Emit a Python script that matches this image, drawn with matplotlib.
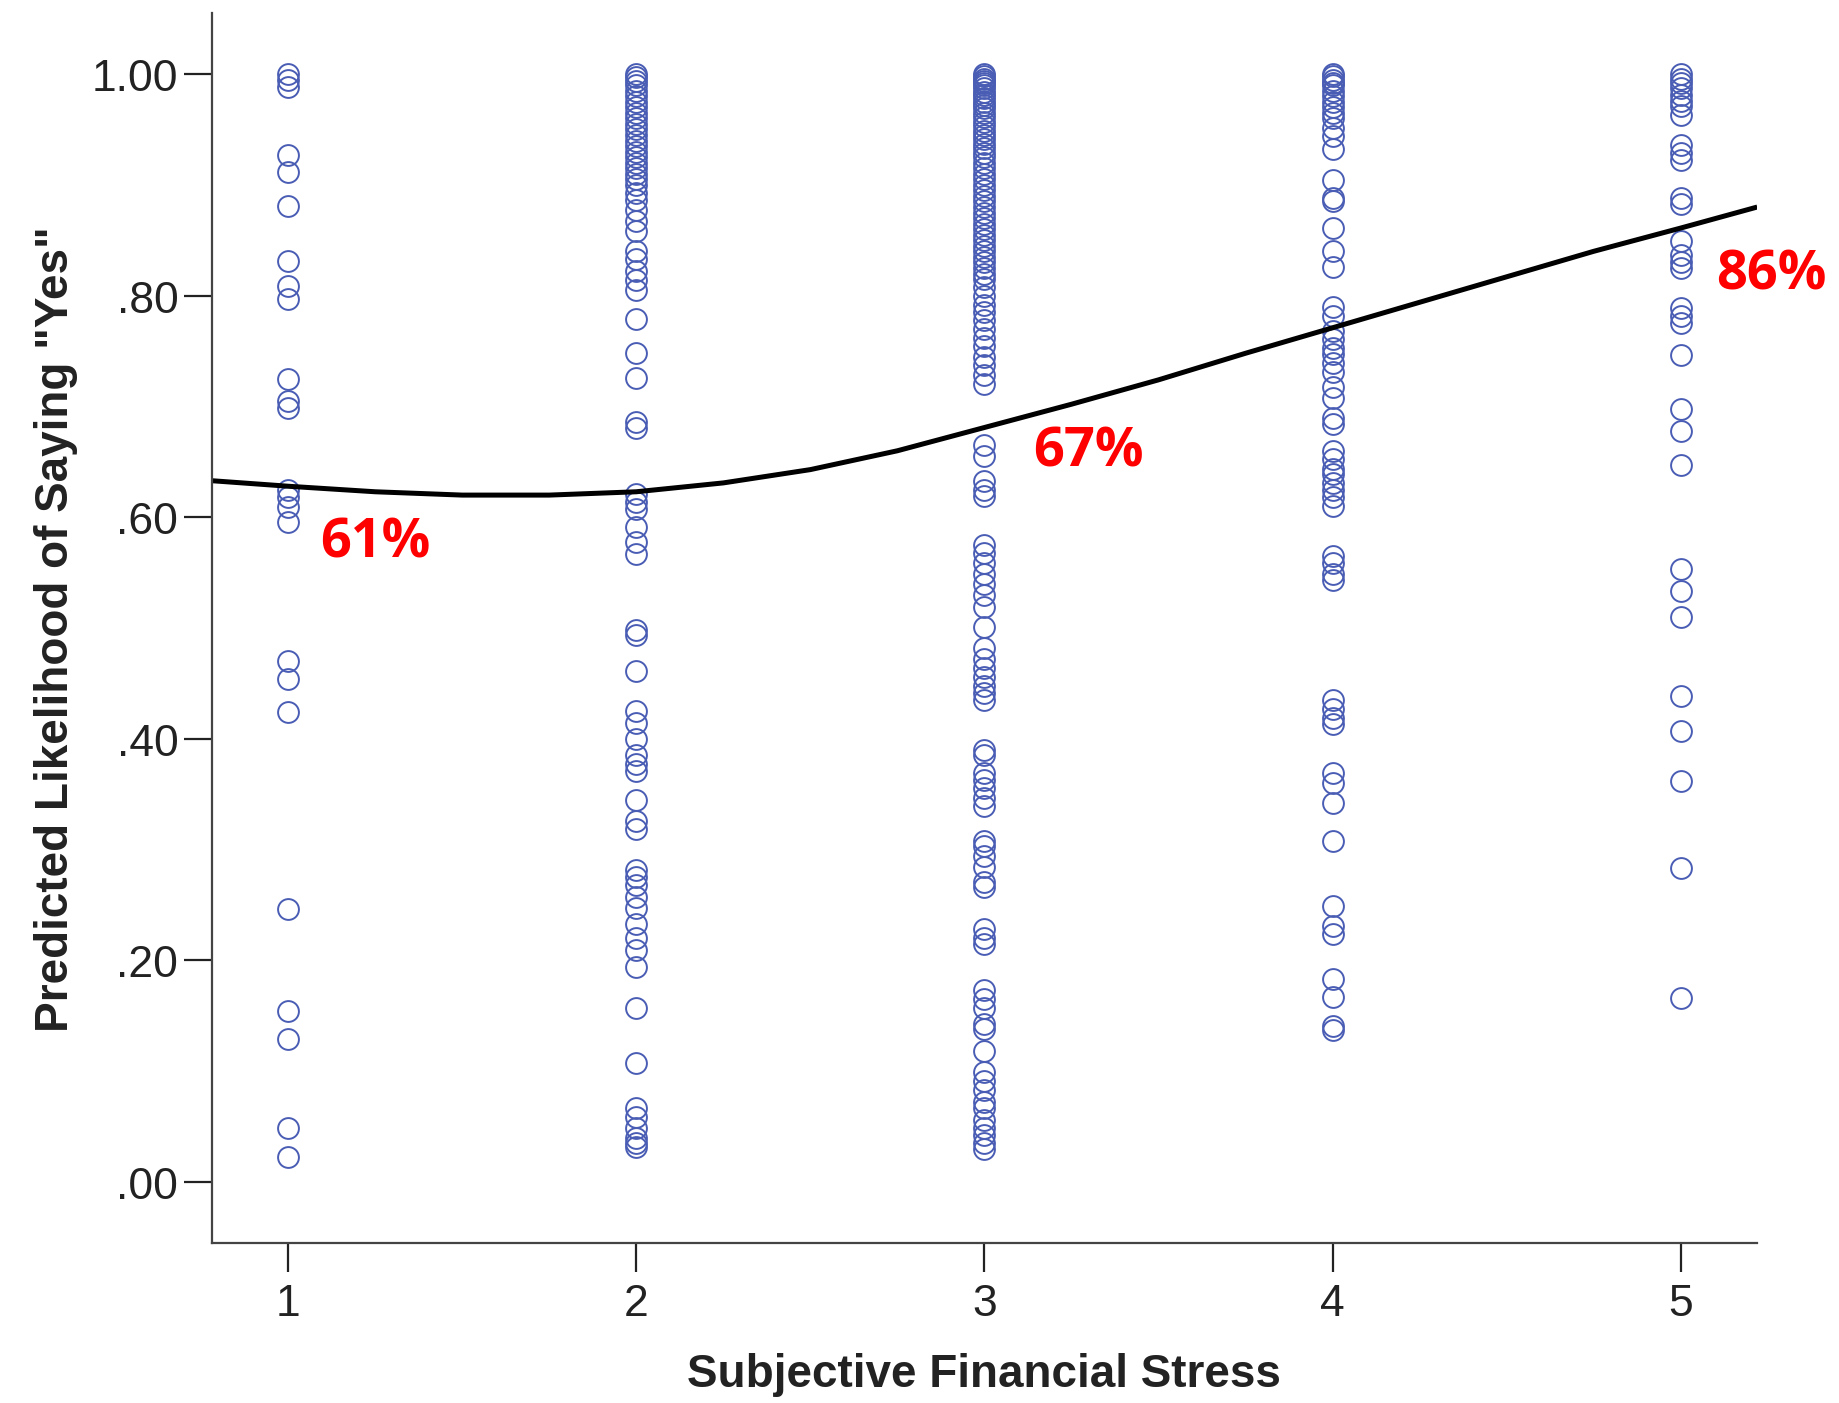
import matplotlib
matplotlib.use("Agg")
import matplotlib.pyplot as plt

# --- Data ---
stress_levels = [1, 2, 3, 4, 5]

likelihood_1 = [1.00, .995, .988, .927, .912, .881, .831, .809, .797, .725, .705, .699,
                .625, .618, .609, .596, .470, .454, .424, .246, .154, .129, .049, .023]

likelihood_2 = [1.00, .997, .994, .990, .985, .980, .975, .970, .965, .960, .955, .950,
                .945, .940, .935, .930, .925, .920, .915, .910, .905, .900,
                .893, .886, .877, .867, .858, .840, .833, .822, .814, .805, .779, .748,
                .726, .686, .681, .621, .614, .607, .591, .578, .567, .498, .494, .461,
                .425, .414, .400, .385, .377, .371, .345, .326, .319, .282, .275, .268,
                .257, .247, .233, .220, .209, .194, .157, .107, .067, .059, .049, .040,
                .035, .032]

likelihood_3 = [1.00, .998, .996, .994, .992, .990, .987, .984, .981, .978, .975, .972,
                .969, .965, .961, .957, .953, .949, .945, .941, .937, .933, .929, .925,
                .920, .915, .910, .905, .900, .895, .890, .885, .880, .875, .870, .865,
                .860, .855, .850, .845, .840, .835, .830, .825, .820, .815, .808, .800,
                .792, .785, .778, .770, .762, .755, .745, .737, .728, .720,
                .665, .655, .633, .625, .619, .575, .568, .559, .549, .540, .530, .519,
                .501, .482, .472, .464, .456, .448, .441, .435, .390, .385, .369, .363,
                .356, .347, .339, .308, .303, .294, .284, .271, .266, .228, .220, .215,
                .173, .165, .157, .143, .138, .118, .099, .091, .083, .072, .067, .056,
                .049, .042, .035, .030]

likelihood_4 = [1.00, .998, .995, .992, .990, .985, .980, .975, .970, .965, .960,
                .951, .944, .932, .904, .888, .885, .861, .840, .826, .790, .782, .768,
                .761, .753, .747, .739, .731, .718, .708, .690, .684, .660, .653, .644,
                .639, .631, .625, .618, .610, .565, .559, .549, .543, .435, .427, .419,
                .413, .369, .360, .342, .308, .249, .231, .224, .183, .167, .141, .137]

likelihood_5 = [1.00, .996, .992, .987, .981, .976, .971, .963, .936, .929, .922, .888,
                .883, .849, .837, .830, .825, .789, .782, .775, .746, .698, .678, .647,
                .553, .533, .510, .439, .407, .362, .283, .166]

# fitted curve, read at steps along the x axis
curve_x = [0.78, 1.0, 1.25, 1.5, 1.75, 2.0, 2.25, 2.5, 2.75, 3.0, 3.25, 3.5,
           3.75, 4.0, 4.25, 4.5, 4.75, 5.0, 5.22]
curve_y = [.633, .628, .623, .620, .620, .623, .631, .643, .660, .681, .702, .724,
           .748, .771, .794, .817, .840, .861, .880]

# percentage callouts
callout_text = ["61%", "67%", "86%"]
callout_x = [1.25, 3.30, 5.26]
callout_y = [.577, .659, .819]

groups = [likelihood_1, likelihood_2, likelihood_3, likelihood_4, likelihood_5]

plt.rcParams['font.family'] = ['Liberation Sans', 'DejaVu Sans']

fig = plt.figure(figsize=(18.4, 14.039), dpi=100)
ax = fig.add_axes([0.115, 0.114, 0.840, 0.876])

for level, vals in zip(stress_levels, groups):
    ax.plot([level] * len(vals), vals, linestyle='none', marker='o',
            markersize=15, markerfacecolor='none', markeredgecolor='#4a5db4',
            markeredgewidth=1.4)

ax.plot(curve_x, curve_y, color='black', linewidth=3.6, solid_capstyle='butt',
        solid_joinstyle='round')

for txt, x, y in zip(callout_text, callout_x, callout_y):
    ax.text(x, y, txt, color='#ff0000', fontsize=39, fontweight='bold',
            family=['Open Sans', 'DejaVu Sans'], ha='center', va='center',
            clip_on=False)

ax.set_xlim(0.78, 5.22)
ax.set_ylim(-0.055, 1.055)
ax.set_xticks(stress_levels)
ax.set_yticks([0, .2, .4, .6, .8, 1.0])
ax.set_yticklabels(['.00', '.20', '.40', '.60', '.80', '1.00'])

for side in ['top', 'right']:
    ax.spines[side].set_visible(False)
for side in ['left', 'bottom']:
    ax.spines[side].set_color('#444444')
    ax.spines[side].set_linewidth(1.6)

ax.tick_params(axis='both', direction='out', labelsize=32, colors='#222222',
               width=1.6, pad=4)
ax.tick_params(axis='y', length=20)
ax.tick_params(axis='x', length=21, pad=8)

ax.set_xlabel('Subjective Financial Stress', fontsize=33, fontweight='bold',
              color='#222222', labelpad=20)
ax.set_ylabel('Predicted Likelihood of Saying "Yes"', fontsize=33,
              fontweight='bold', color='#222222', labelpad=10)

fig.savefig('out.png', dpi=100, facecolor='white')
